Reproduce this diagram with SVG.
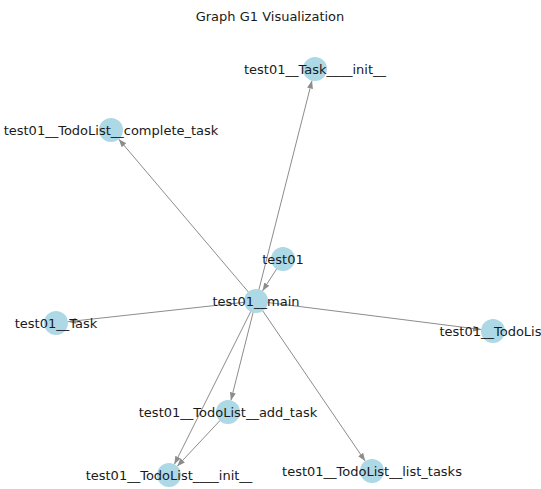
<svg xmlns="http://www.w3.org/2000/svg" width="541" height="489" viewBox="0 0 541 489">
<style>
.e{stroke:#8c8c8c;stroke-width:1;fill:none;marker-end:url(#ah)}
.n{fill:#add8e6}
text{font-family:"DejaVu Sans",sans-serif;font-size:13px;fill:#1a1a1a;text-anchor:middle;dominant-baseline:central}
</style>
<defs>
<marker id="ah" markerUnits="userSpaceOnUse" markerWidth="10" markerHeight="8" refX="8" refY="3" orient="auto">
<path d="M0,0 L8,3 L0,6 z" fill="#8c8c8c"/>
</marker>
</defs>
<rect width="541" height="489" fill="#fff"/>
<text x="270" y="16">Graph G1 Visualization</text>
<g id="edges">
<line class="e" x1="256" y1="301" x2="312" y2="80.6"/>
<line class="e" x1="256" y1="301" x2="118.8" y2="139.2"/>
<line class="e" x1="283" y1="259" x2="262.5" y2="290.9"/>
<line class="e" x1="256" y1="301" x2="67.9" y2="321.7"/>
<line class="e" x1="256" y1="301" x2="481.1" y2="329.5"/>
<line class="e" x1="256" y1="301" x2="230.9" y2="400.4"/>
<line class="e" x1="256" y1="301" x2="174.4" y2="464.3"/>
<line class="e" x1="228" y1="412" x2="177.2" y2="466.2"/>
<line class="e" x1="256" y1="301" x2="365.2" y2="461.1"/>
</g>
<g id="n_task_init"><circle class="n" cx="315" cy="69" r="12"/><text x="315" y="69">test01__Task____init__</text></g>
<g id="n_complete"><circle class="n" cx="111" cy="130" r="12"/><text x="111" y="130">test01__TodoList__complete_task</text></g>
<g id="n_test01"><circle class="n" cx="283" cy="259" r="12"/><text x="283" y="259">test01</text></g>
<g id="n_main"><circle class="n" cx="256" cy="301" r="12"/><text x="256" y="301">test01__main</text></g>
<g id="n_task"><circle class="n" cx="56" cy="323" r="12"/><text x="56" y="323">test01__Task</text></g>
<g id="n_todolist"><circle class="n" cx="493" cy="331" r="12"/><text x="493" y="331">test01__TodoList</text></g>
<g id="n_add"><circle class="n" cx="228" cy="412" r="12"/><text x="228" y="412">test01__TodoList__add_task</text></g>
<g id="n_todo_init"><circle class="n" cx="169" cy="475" r="12"/><text x="169" y="475">test01__TodoList____init__</text></g>
<g id="n_list"><circle class="n" cx="372" cy="471" r="12"/><text x="372" y="471">test01__TodoList__list_tasks</text></g>
</svg>
